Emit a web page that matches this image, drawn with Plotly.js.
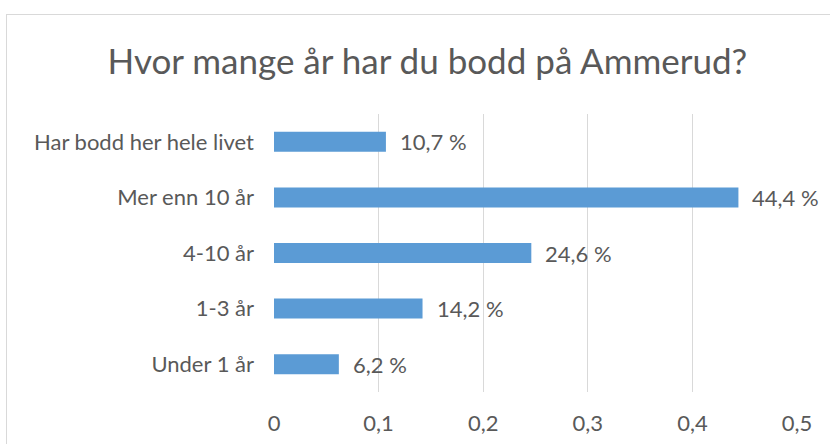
<!DOCTYPE html>
<html><head><meta charset="utf-8">
<script src="https://cdn.plot.ly/plotly-3.0.1.min.js"></script>
<style>
body{margin:0;padding:0;background:#fff;}
#frame{position:absolute;left:6px;top:14px;width:840px;height:450px;border:1px solid #d9d9d9;box-sizing:border-box;}
#chart{position:absolute;left:0;top:0;width:830px;height:444px;}
</style></head>
<body>
<div id="frame"></div>
<div id="chart"></div>
<script>
const categories = ["Under 1 år", "1-3 år", "4-10 år", "Mer enn 10 år", "Har bodd her hele livet"];
const values = [0.062, 0.142, 0.246, 0.444, 0.107];
const labels = ["6,2 %", "14,2 %", "24,6 %", "44,4 %", "10,7 %"];
const xTicks = [0, 0.1, 0.2, 0.3, 0.4, 0.5];
const xTickLabels = ["0", "0,1", "0,2", "0,3", "0,4", "0,5"];

const font = "Lato, 'Open Sans', sans-serif";
const grey = "#595959";

const trace = {
  type: "bar", orientation: "h",
  x: values, y: categories,
  marker: {color: "#5b9bd5"},
  hoverinfo: "none"
};

const annotations = values.map((v, i) => ({
  x: v, y: categories[i], xref: "x", yref: "y",
  text: labels[i], showarrow: false, xanchor: "left", xshift: 12,
  font: {family: font, size: 22, color: grey}
}));

const layout = {
  width: 830, height: 444,
  margin: {l: 274, r: 33, t: 114, b: 52},
  paper_bgcolor: "rgba(0,0,0,0)", plot_bgcolor: "rgba(0,0,0,0)",
  bargap: 0.64,
  showlegend: false,
  title: {text: "Hvor mange år har du bodd på Ammerud?", x: 0.515, xanchor: "center", y: 0.86, yanchor: "middle",
          font: {family: font, size: 35, color: grey}},
  xaxis: {range: [0, 0.5], tickvals: xTicks, ticktext: xTickLabels, showgrid: true, gridcolor: "#d9d9d9",
          zeroline: false, showline: false, ticks: "", tickfont: {family: font, size: 22, color: grey},
          ticklabelstandoff: 16, fixedrange: true},
  yaxis: {showgrid: false, zeroline: false, showline: false, ticks: "", ticklabelstandoff: 19,
          tickfont: {family: font, size: 22, color: grey}, fixedrange: true},
  annotations: annotations
};

Plotly.newPlot("chart", [trace], layout, {displayModeBar: false, staticPlot: true});
</script>
</body></html>
